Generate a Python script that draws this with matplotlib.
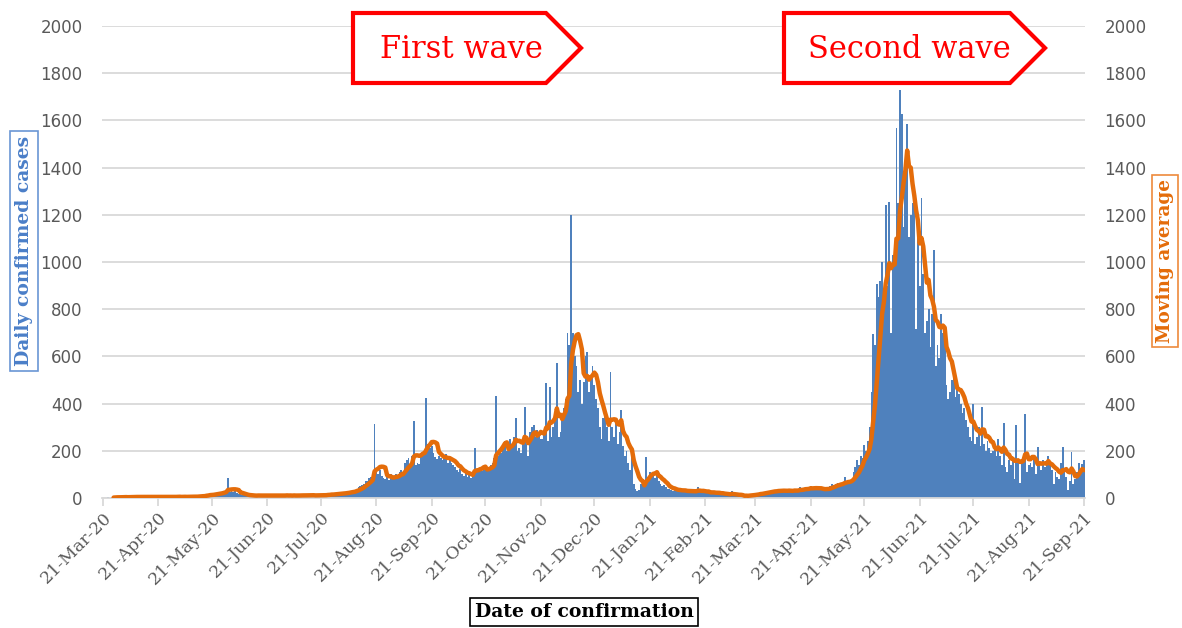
import numpy as np
import pandas as pd
import matplotlib
matplotlib.use("Agg")
import matplotlib.pyplot as plt
from matplotlib.patches import Polygon

# ---------------- data (daily confirmed cases) ----------------
start_date = "2020-03-21"
end_date = "2021-09-21"

cases_2020_03 = [1, 0, 2, 3, 1, 4, 2, 5, 3, 2, 4]
cases_2020_04 = [3, 6, 4, 2, 5, 7, 3, 4, 6, 5, 2, 8, 4, 3, 5, 6, 4, 2, 7, 5, 3, 4, 6, 5, 3, 4, 7, 5, 4, 6]
cases_2020_05 = [4, 6, 5, 3, 7, 5, 4, 6, 8, 5, 4, 7, 6, 9, 10, 12, 8, 15, 14, 18, 12, 16,
                 20, 18, 25, 22, 28, 30, 32, 84, 26]
cases_2020_06 = [32, 26, 28, 22, 18, 15, 12, 14, 10, 11, 9, 12, 10, 8, 11, 13, 9, 10, 12, 8,
                 10, 11, 14, 9, 8, 12, 10, 11, 9, 13]
cases_2020_07 = [10, 12, 9, 11, 8, 13, 10, 12, 11, 9, 14, 10, 12, 11, 13, 10, 12, 9, 11, 10,
                 14, 12, 15, 13, 16, 14, 18, 15, 17, 20, 18]
cases_2020_08 = [18, 22, 20, 25, 24, 28, 30, 26, 32, 40, 45, 50, 55, 60, 70, 70, 85, 90, 100,
                 315, 110, 100, 120, 95, 85, 80, 90, 75, 100, 85, 95]
cases_2020_09 = [100, 90, 110, 120, 105, 150, 160, 170, 140, 180, 325, 140, 150, 145,
                 185, 190, 200, 424, 230, 210, 220, 190, 175, 165, 180, 170, 160, 175, 185, 150]
cases_2020_10 = [165, 150, 140, 130, 120, 110, 125, 100, 95, 110, 90, 105, 85, 100,
                 210, 120, 110, 125, 115, 130, 120, 125, 130, 140, 150, 170, 431, 180,
                 190, 190, 220]
cases_2020_11 = [240, 200, 230, 250, 210, 260, 338, 200, 210, 190, 230, 387, 230, 180,
                 280, 300, 310, 260, 290, 270, 250, 250, 280, 486, 240, 470, 260, 300, 330, 571]
cases_2020_12 = [260, 280, 340, 380, 420, 700, 650, 1200, 700, 600, 560, 450, 500, 400,
                 490, 600, 620, 450, 520, 560, 480, 420, 380, 300, 250, 340, 360, 300, 240, 535, 300]
cases_2021_01 = [260, 330, 230, 280, 372, 220, 180, 200, 150, 120, 196, 60, 40, 30,
                 35, 60, 80, 70, 175, 90, 110, 95, 100, 85, 111, 70, 60, 50, 55, 45, 40]
cases_2021_02 = [40, 35, 30, 38, 32, 28, 35, 30, 33, 28, 25, 30, 27, 35, 28, 26, 48, 25, 22, 28,
                 24, 20, 26, 22, 25, 21, 19, 23]
cases_2021_03 = [18, 15, 20, 14, 16, 12, 15, 30, 10, 12, 9, 8, 11, 7, 10, 12, 9, 14, 13, 16, 15,
                 18, 20, 22, 19, 24, 26, 28, 25, 30, 32]
cases_2021_04 = [30, 28, 35, 32, 26, 34, 30, 29, 33, 31, 28, 36, 32, 30, 48, 35, 38, 42, 40, 36,
                 51, 44, 38, 42, 40, 35, 38, 36, 34, 40]
cases_2021_05 = [45, 50, 60, 55, 58, 62, 52, 65, 60, 90, 70, 75, 68, 72, 110, 130, 161, 140,
                 180, 170, 224, 200, 240, 300, 450, 695, 650, 905, 850, 920, 1000]
cases_2021_06 = [800, 1241, 900, 1255, 700, 1030, 1000, 1566, 1250, 1727, 1629, 1150, 1400,
                 1586, 1106, 1200, 1250, 1276, 718, 1100, 900, 1270, 950, 700, 750, 800, 640,
                 780, 1050, 560]
cases_2021_07 = [650, 595, 780, 700, 720, 480, 420, 450, 500, 520, 430, 460, 440, 400,
                 360, 380, 330, 300, 260, 240, 400, 230, 260, 300, 220, 387, 230, 200, 240, 210, 190]
cases_2021_08 = [200, 230, 180, 250, 180, 140, 316, 130, 110, 160, 140, 170, 80, 310,
                 150, 62, 160, 170, 358, 110, 140, 150, 130, 160, 100, 217, 140, 120, 160, 130, 150]
cases_2021_09 = [180, 140, 120, 60, 110, 90, 80, 150, 217, 120, 90, 34, 70, 195, 60, 80, 110,
                 150, 120, 146, 160]

tick_labels = ["21-Mar-20", "21-Apr-20", "21-May-20", "21-Jun-20", "21-Jul-20", "21-Aug-20",
               "21-Sep-20", "21-Oct-20", "21-Nov-20", "21-Dec-20", "21-Jan-21", "21-Feb-21",
               "21-Mar-21", "21-Apr-21", "21-May-21", "21-Jun-21", "21-Jul-21", "21-Aug-21",
               "21-Sep-21"]
y_ticks = [0, 200, 400, 600, 800, 1000, 1200, 1400, 1600, 1800, 2000]
ma_window = 7

# ---------------- assemble ----------------
daily = np.concatenate([cases_2020_03, cases_2020_04, cases_2020_05, cases_2020_06,
                        cases_2020_07, cases_2020_08, cases_2020_09, cases_2020_10,
                        cases_2020_11, cases_2020_12, cases_2021_01, cases_2021_02,
                        cases_2021_03, cases_2021_04, cases_2021_05, cases_2021_06,
                        cases_2021_07, cases_2021_08, cases_2021_09]).astype(float)
dates = pd.date_range(start_date, end_date, freq="D")
n = min(len(dates), len(daily))
dates = dates[:n]
daily = daily[:n]
series = pd.Series(daily, index=dates)
moving = series.rolling(ma_window).mean()

tick_dates = pd.to_datetime(tick_labels, format="%d-%b-%y")

# ---------------- style ----------------
BLUE = "#4F81BD"
ORANGE = "#E46C0A"
GRID = "#D9D9D9"
TXT = "#595959"

fig = plt.figure(figsize=(11.82, 6.28), dpi=100)
ax = fig.add_axes([102 / 1182, 1 - 498 / 628, (1085 - 102) / 1182, (498 - 26) / 628])
ax2 = ax.twinx()

ax.bar(dates, daily, width=1.0, color=BLUE, linewidth=0, zorder=2)
ax2.plot(moving.index, moving.values, color=ORANGE, linewidth=3.2, zorder=3,
         solid_joinstyle="round", solid_capstyle="round")

xmin = dates[0] - pd.Timedelta(hours=12)
xmax = dates[-1] + pd.Timedelta(hours=12)
for a in (ax, ax2):
    a.set_xlim(xmin, xmax)
    a.set_ylim(0, 2000)
    a.set_yticks(y_ticks)
    for s in a.spines.values():
        s.set_visible(False)

ax.set_axisbelow(True)
ax.yaxis.grid(True, color=GRID, linewidth=1.3)
ax.spines["bottom"].set_visible(True)
ax.spines["bottom"].set_color(GRID)
ax.spines["bottom"].set_linewidth(1.3)

ax.set_xticks(tick_dates)
ax.set_xticklabels(tick_labels, rotation=45, ha="right", va="top", rotation_mode="anchor",
                   family="DejaVu Serif", fontsize=12.5, color=TXT)
ax.tick_params(axis="x", length=6, color=GRID, width=1.3, pad=2)
ax.tick_params(axis="y", length=0, labelsize=12, labelcolor=TXT, pad=14)
ax2.tick_params(axis="y", length=0, labelsize=12, labelcolor=TXT, pad=14)
ax2.tick_params(axis="x", length=0)
for lbl in ax.get_xticklabels():
    lbl.set_x(lbl.get_position()[0])

# axis titles in boxes
fig.text(24 / 1182, 1 - 251 / 628, "Daily confirmed cases", rotation=90, ha="center",
         va="center", family="DejaVu Serif", fontweight="bold", fontsize=13.5, color="#4A7EC8",
         bbox=dict(boxstyle="square,pad=0.25", facecolor="white", edgecolor="#6A96D4", linewidth=1.2))
fig.text(1165 / 1182, 1 - 261 / 628, "Moving average", rotation=90, ha="center",
         va="center", family="DejaVu Serif", fontweight="bold", fontsize=13.3, color=ORANGE,
         bbox=dict(boxstyle="square,pad=0.2", facecolor="white", edgecolor="#EE8A3C", linewidth=1.2))
fig.text(584 / 1182, 1 - 612 / 628, "Date of confirmation", ha="center", va="center",
         family="DejaVu Serif", fontweight="bold", fontsize=13.5, color="black",
         bbox=dict(boxstyle="square,pad=0.25", facecolor="white", edgecolor="black", linewidth=1.2))

# arrow-shaped wave labels (figure pixel coordinates)
def arrow_box(x0, x1, tip, y0, y1, label):
    ym = (y0 + y1) / 2
    pts = [(x0, y0), (x1, y0), (tip, ym), (x1, y1), (x0, y1)]
    pts = [(px / 1182, 1 - py / 628) for px, py in pts]
    poly = Polygon(pts, closed=True, transform=fig.transFigure, facecolor="white",
                   edgecolor="#FF0000", linewidth=3, joinstyle="miter", zorder=10)
    fig.patches.append(poly)
    fig.text(((x0 + x1) / 2 + 12) / 1182, 1 - (ym + 1) / 628, label, ha="center", va="center",
             family="DejaVu Serif", fontsize=22, color="#FF0000", zorder=11)

arrow_box(353, 546, 581, 13, 83, "First wave")
arrow_box(784, 1010, 1045, 13, 83, "Second wave")

fig.savefig("out.png", dpi=100)
